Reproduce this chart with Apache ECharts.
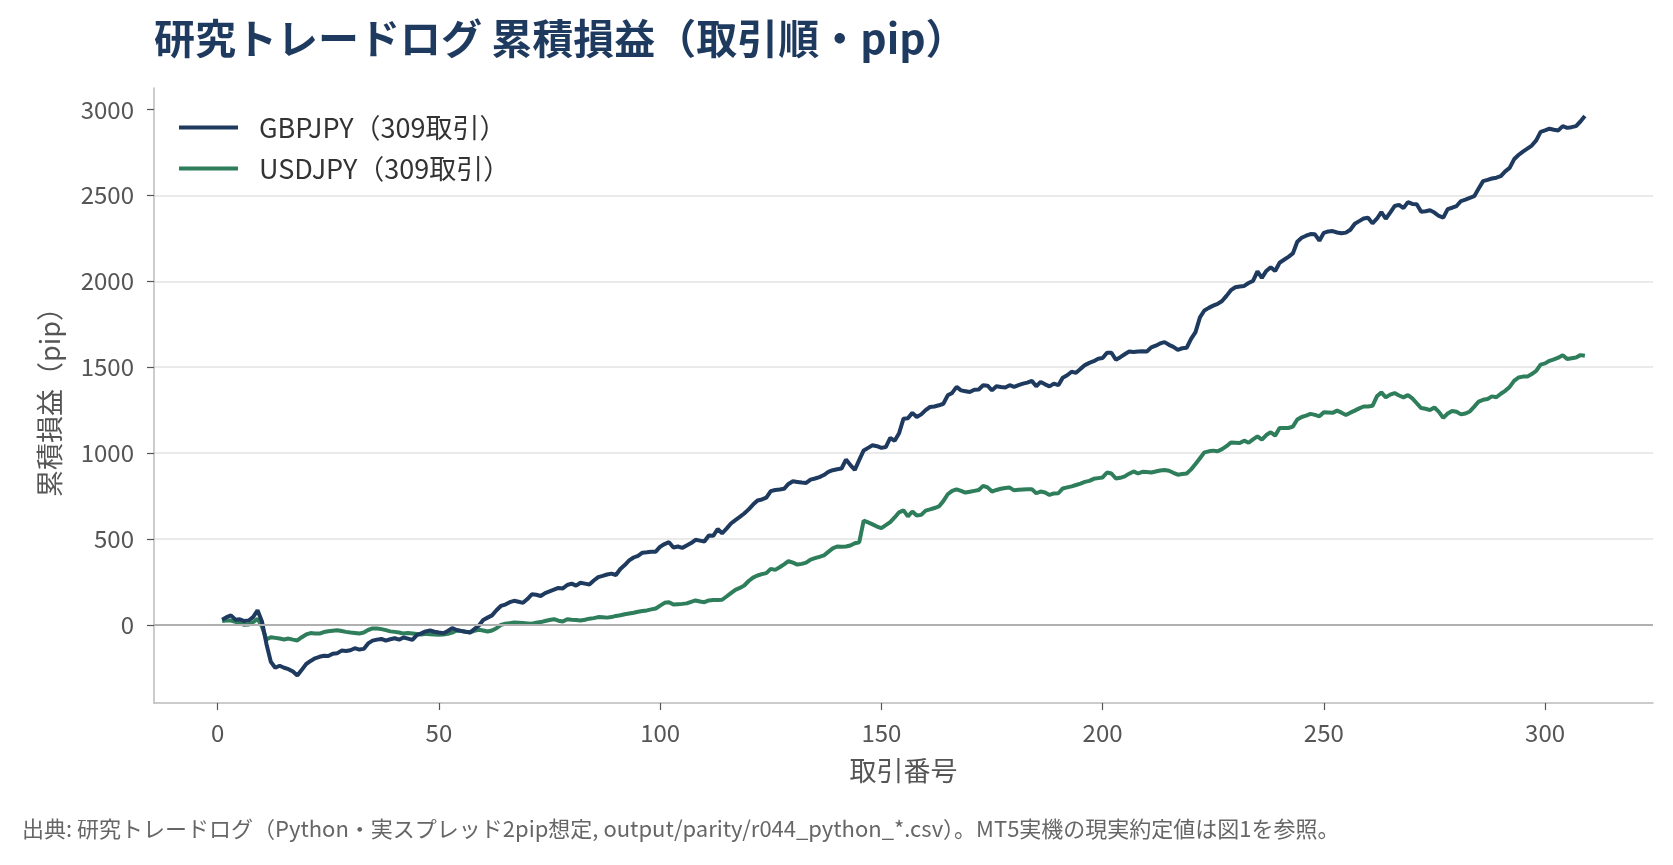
<!DOCTYPE html>
<html>
<head>
<meta charset="utf-8">
<title>研究トレードログ 累積損益</title>
<script src="https://cdn.jsdelivr.net/npm/echarts@6/dist/echarts.min.js"></script>
<style>
    html, body { margin: 0; padding: 0; background: #fff; }
    #main { width: 1673px; height: 865px; }
</style>
</head>
<body>
<div id="main"></div>
<script>
// 累積損益（pip）、取引番号 1〜309
var gbpjpy = [
    30, 45, 55, 30, 32, 22, 25, 45, 85, 20,
    -110, -215, -250, -238, -250, -258, -272, -295, -262, -228,
    -210, -195, -186, -180, -182, -168, -165, -150, -152, -148,
    -136, -144, -140, -108, -92, -86, -82, -92, -84, -78,
    -86, -74, -80, -88, -60, -50, -38, -33, -40, -45,
    -49, -36, -19, -30, -35, -40, -45, -25, -5, 28,
    42, 55, 85, 110, 118, 132, 140, 134, 128, 150,
    178, 175, 168, 185, 195, 205, 215, 212, 232, 240,
    228, 245, 240, 235, 258, 278, 285, 293, 298, 290,
    325, 348, 375, 392, 402, 420, 422, 425, 426, 455,
    470, 481, 450, 456, 448, 462, 476, 495, 490, 485,
    520, 518, 558, 533, 560, 590, 610, 628, 648, 672,
    700, 724, 730, 740, 778, 785, 788, 792, 820, 836,
    832, 828, 826, 845, 852, 860, 872, 890, 900, 906,
    910, 962, 930, 902, 960, 1015, 1030, 1045, 1040, 1030,
    1035, 1088, 1072, 1115, 1200, 1203, 1234, 1210, 1225, 1250,
    1268, 1271, 1278, 1287, 1336, 1350, 1385, 1365, 1360, 1355,
    1368, 1370, 1395, 1392, 1365, 1389, 1384, 1382, 1395, 1385,
    1395, 1404, 1410, 1420, 1389, 1414, 1400, 1388, 1404, 1395,
    1439, 1453, 1473, 1467, 1490, 1512, 1525, 1535, 1549, 1553,
    1584, 1584, 1543, 1558, 1575, 1591, 1588, 1591, 1592, 1591,
    1615, 1625, 1638, 1646, 1630, 1618, 1601, 1610, 1613, 1665,
    1704, 1790, 1830, 1845, 1858, 1868, 1885, 1915, 1948, 1965,
    1970, 1973, 1990, 2002, 2058, 2020, 2060, 2082, 2060, 2108,
    2125, 2142, 2162, 2230, 2253, 2265, 2275, 2273, 2236, 2282,
    2290, 2292, 2284, 2279, 2283, 2300, 2335, 2350, 2365, 2370,
    2337, 2364, 2403, 2364, 2400, 2438, 2445, 2426, 2461, 2450,
    2448, 2405, 2408, 2413, 2400, 2380, 2370, 2420, 2428, 2438,
    2467, 2475, 2485, 2495, 2540, 2583, 2590, 2598, 2603, 2612,
    2640, 2660, 2710, 2735, 2755, 2772, 2790, 2820, 2870, 2878,
    2888, 2882, 2878, 2903, 2893, 2897, 2903, 2930, 2962
];
var usdjpy = [
    22, 25, 25, 18, 10, 0, 2, 15, 35, -10,
    -85, -72, -76, -80, -85, -80, -86, -91, -72, -56,
    -48, -50, -51, -42, -37, -34, -31, -36, -41, -45,
    -47, -51, -45, -30, -21, -21, -25, -31, -38, -41,
    -45, -51, -47, -50, -53, -56, -52, -55, -56, -58,
    -56, -52, -45, -33, -36, -40, -43, -35, -29, -33,
    -39, -33, -20, 0, 6, 10, 14, 12, 10, 8,
    6, 12, 16, 22, 28, 33, 24, 19, 33, 30,
    28, 25, 30, 36, 39, 45, 44, 42, 45, 52,
    56, 62, 66, 70, 76, 80, 84, 90, 95, 112,
    128, 132, 118, 120, 122, 125, 134, 142, 136, 132,
    142, 144, 144, 146, 165, 185, 204, 215, 229, 255,
    275, 287, 295, 301, 326, 320, 335, 352, 371, 362,
    351, 355, 362, 380, 388, 396, 404, 425, 445, 456,
    455, 456, 462, 475, 481, 607, 596, 585, 572, 563,
    580, 598, 625, 655, 666, 631, 660, 636, 640, 665,
    672, 680, 689, 720, 760, 780, 789, 780, 770, 775,
    780, 785, 809, 800, 776, 785, 792, 796, 799, 783,
    786, 788, 789, 790, 766, 776, 770, 756, 765, 766,
    794, 800, 806, 814, 822, 832, 838, 850, 854, 858,
    887, 881, 852, 856, 864, 880, 893, 881, 891, 889,
    887, 893, 898, 901, 897, 885, 874, 878, 881, 905,
    936, 970, 1004, 1010, 1014, 1010, 1023, 1040, 1062, 1060,
    1058, 1072, 1060, 1080, 1097, 1078, 1105, 1121, 1101, 1146,
    1146, 1146, 1154, 1195, 1210, 1218, 1228, 1222, 1214, 1237,
    1236, 1234, 1247, 1235, 1222, 1235, 1247, 1260, 1271, 1271,
    1275, 1330, 1353, 1324, 1340, 1349, 1335, 1324, 1337, 1318,
    1290, 1262, 1258, 1250, 1265, 1240, 1205, 1230, 1245, 1240,
    1225, 1230, 1242, 1270, 1300, 1310, 1315, 1330, 1325, 1345,
    1362, 1385, 1420, 1440, 1445, 1445, 1460, 1478, 1515, 1522,
    1537, 1545, 1555, 1570, 1547, 1552, 1556, 1570, 1566
];
var xTicks = [0, 50, 100, 150, 200, 250, 300];
var yTicks = [0, 500, 1000, 1500, 2000, 2500, 3000];
var seriesNames = ['GBPJPY（309取引）', 'USDJPY（309取引）'];

function toPoints(arr) {
    var pts = [];
    for (var i = 0; i < arr.length; i++) {
        pts.push([i + 1, arr[i]]);
    }
    return pts;
}

var font = '"Noto Sans CJK JP", "Noto Sans", sans-serif';
var myChart = echarts.init(document.getElementById('main'));
var option = {
    animation: false,
    backgroundColor: '#ffffff',
    textStyle: { fontFamily: font },
    title: {
        text: '研究トレードログ 累積損益（取引順・pip）',
        left: 149,
        top: 13,
        textStyle: { fontSize: 41, fontWeight: 'bold', color: '#1f3a5f', fontFamily: font }
    },
    grid: { left: 154, right: 20, top: 88, bottom: 162 },
    legend: {
        orient: 'vertical',
        left: 174,
        top: 109,
        icon: 'rect',
        itemWidth: 59,
        itemHeight: 4,
        itemGap: 14,
        textStyle: { fontSize: 27, color: '#333', fontFamily: font, padding: [0, 0, 0, 16] },
        data: seriesNames
    },
    xAxis: {
        type: 'value',
        min: -14.4,
        max: 324.4,
        name: '取引番号',
        nameLocation: 'middle',
        nameGap: 54,
        nameTextStyle: { fontSize: 27, color: '#555', fontFamily: font },
        axisLine: { onZero: false, lineStyle: { color: '#bbbbbb', width: 1.5 } },
        axisTick: { show: true, length: 7, customValues: xTicks, lineStyle: { color: '#555', width: 1.2 } },
        axisLabel: { customValues: xTicks, margin: 18, fontSize: 24, color: '#555', fontFamily: font },
        splitLine: { show: false }
    },
    yAxis: {
        type: 'value',
        min: -455,
        max: 3125,
        splitNumber: 7,
        name: '累積損益（pip）',
        nameLocation: 'middle',
        nameGap: 91,
        nameRotate: 90,
        nameTextStyle: { fontSize: 27, color: '#555', fontFamily: font },
        axisLine: { show: true, onZero: false, lineStyle: { color: '#bbbbbb', width: 1.5 } },
        axisTick: { show: true, length: 7, customValues: yTicks, lineStyle: { color: '#555', width: 1.2 } },
        axisLabel: {
            customValues: yTicks,
            margin: 20,
            fontSize: 24,
            color: '#555',
            fontFamily: font,
            formatter: function (v) { return String(v); }
        },
        splitLine: { show: true, showMinLine: false, showMaxLine: false, lineStyle: { color: '#e3e3e3', width: 1.5 } }
    },
    series: [
        {
            name: seriesNames[0],
            type: 'line',
            data: toPoints(gbpjpy),
            showSymbol: false,
            color: '#1f3a5f',
            lineStyle: { width: 4, color: '#1f3a5f' },
            z: 3,
            markLine: {
                silent: true,
                symbol: 'none',
                label: { show: false },
                lineStyle: { color: '#b0b0b0', width: 2, type: 'solid' },
                data: [{ yAxis: 0 }]
            }
        },
        {
            name: seriesNames[1],
            type: 'line',
            data: toPoints(usdjpy),
            showSymbol: false,
            color: '#2e7d5b',
            lineStyle: { width: 4, color: '#2e7d5b' },
            z: 2
        }
    ],
    graphic: [
        {
            type: 'text',
            left: 22,
            top: 818,
            style: {
                text: '出典: 研究トレードログ（Python・実スプレッド2pip想定, output/parity/r044_python_*.csv）。MT5実機の現実約定値は図1を参照。',
                fontSize: 22,
                fill: '#666',
                fontFamily: font
            }
        }
    ]
};
myChart.setOption(option);
</script>
</body>
</html>
